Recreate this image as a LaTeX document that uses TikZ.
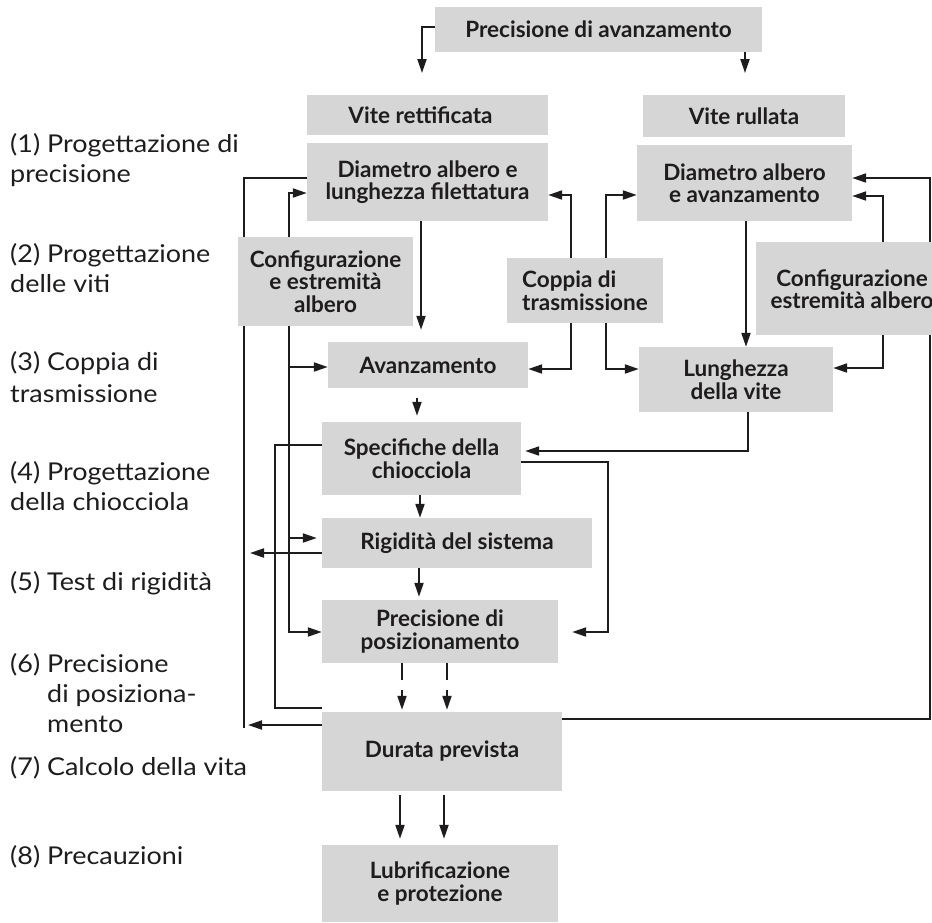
\documentclass[tikz,border=0pt]{standalone}
\usepackage{fontspec}
\setmainfont{Lato}
\newfontfamily\lblfont{Lato}[FakeStretch=1.1]
\usetikzlibrary{arrows.meta}
\pgfdeclarelayer{bg}
\pgfsetlayers{bg,main}
\definecolor{boxgray}{RGB}{214,214,214}
\definecolor{ink}{RGB}{30,28,29}
\begin{document}
\begin{tikzpicture}[x=1pt,y=-1pt,
  box/.style={fill=boxgray, draw=none, inner sep=0pt, align=center, text=ink, font=\bfseries\fontsize{22.5}{22.5}\selectfont},
  boxtext/.style={inner sep=0pt, align=center, text=ink, font=\bfseries\fontsize{22.5}{22.5}\selectfont},
  lbl/.style={anchor=base west, inner sep=0pt, text=ink, font=\lblfont\fontsize{24.5}{30}\selectfont},
  conn/.style={draw=ink, line width=2pt},
  arr/.style={conn, -{Triangle[length=14pt,width=9pt]}},
]
\useasboundingbox (0,0) rectangle (932,922);
% boxes
\node[box, minimum width=327pt, minimum height=45pt] (top) at (598.5,29.5) {Precisione di avanzamento};
\node[box, minimum width=241pt, minimum height=40pt] (viteR) at (427.5,115) {Vite rettificata\hspace*{14pt}};
\node[box, minimum width=241pt, minimum height=78pt] (diamR) at (427.5,182) {Diametro albero e\\lunghezza filettatura};
\node[box, minimum width=202pt, minimum height=42pt] (viteRul) at (744,116) {Vite rullata};
\node[box, minimum width=215pt, minimum height=76pt] (diamA) at (744.5,183) {Diametro albero\\e avanzamento};
\node[box, minimum width=176pt, minimum height=93pt] (confR) at (844,288.5) {};
\node[boxtext] (confRt) at (852,289) {Configurazione\\estremità albero};
\node[box, minimum width=194pt, minimum height=65pt] (lung) at (736,379.5) {Lunghezza\\della vite};
\node[box, minimum width=156pt, minimum height=65pt, align=left] (coppia) at (585,290.5) {Coppia di\\trasmissione};
\node[box, minimum width=175pt, minimum height=89pt] (confL) at (325.5,281.5) {Configurazione\\e estremità\\albero};
\node[box, minimum width=200pt, minimum height=46pt] (avz) at (428,365) {Avanzamento};
\node[box, minimum width=199pt, minimum height=73pt] (spec) at (421.5,458.5) {Specifiche della\\chiocciola};
\node[box, minimum width=270pt, minimum height=50pt] (rig) at (457,543) {Rigidità del sistema};
\node[box, minimum width=236pt, minimum height=63pt] (prec) at (440,631.5) {Precisione di\\posizionamento};
\node[box, minimum width=240pt, minimum height=79pt] (dur) at (442,751.5) {Durata prevista};
\node[box, minimum width=236pt, minimum height=77pt] (lub) at (440,883.5) {Lubrificazione\\e protezione};
% left labels
\node[lbl] (l1a) at (10,152) {(1) Progettazione di};
\node[lbl] (l1b) at (10,182) {precisione};
\node[lbl] (l2a) at (10,262) {(2) Progettazione};
\node[lbl] (l2b) at (10,292) {delle viti};
\node[lbl] (l3a) at (10,370) {(3) Coppia di};
\node[lbl] (l3b) at (10,402) {trasmissione};
\node[lbl] (l4a) at (10,480) {(4) Progettazione};
\node[lbl] (l4b) at (10,510) {della chiocciola};
\node[lbl] (l5) at (10,590) {(5) Test di rigidità};
\node[lbl] (l6a) at (10,672) {(6) Precisione};
\node[lbl] (l6b) at (47,702) {di posiziona-};
\node[lbl] (l6c) at (47,732) {mento};
\node[lbl] (l7) at (10,775) {(7) Calcolo della vita};
\node[lbl] (l8) at (10,864) {(8) Precauzioni};
% free ends
\coordinate (tipL) at (422,73);
\coordinate (tipR) at (745,73);
\coordinate (busTop) at (289,193);
\coordinate (busBot) at (289,632);
\coordinate (outTop) at (244,178);
\coordinate (outBot) at (244,728);
\coordinate (retL) at (250,553);
\coordinate (retL2) at (248,725);
\coordinate (loopR) at (930,178);
\begin{pgfonlayer}{bg}
\draw[arr] (top.west |- 0,27) -| (tipL);
\draw[arr] (tipR |- top.south) -- (tipR);
\draw[arr, shorten >=12pt] (421,0 |- diamR.south) -- (421,0 |- avz.north);
% coppia
\draw[arr] (571,0 |- coppia.north) |- (diamR.east |- 0,195);
\draw[arr] (606,0 |- coppia.north) |- (diamA.west |- 0,195);
\draw[arr] (571,0 |- coppia.south) |- (avz.east |- 0,369);
\draw[arr] (606,0 |- coppia.south) |- (lung.west |- 0,369);
% right column
\draw[arr] (746,0 |- diamA.south) -- (746,0 |- lung.north);
\draw[arr] (883,0 |- confR.north) |- (diamA.east |- 0,196);
\draw[arr] (883,0 |- confR.south) |- (lung.east |- 0,368);
\draw[arr] (dur.east |- 0,719) -| (loopR) -- (diamA.east |- loopR);
\draw[arr, shorten >=4pt] (748,0 |- lung.south) |- (spec.east |- 0,451);
\draw[arr, shorten >=14pt] (spec.east |- 0,462) -| (608,632) -- (prec.east |- 0,632);
% centre column
\draw[arr, shorten <=10pt, shorten >=6pt] (417,0 |- avz.south) -- (417,0 |- spec.north);
\draw[arr] (420,0 |- spec.south) -- (420,0 |- rig.north);
\draw[arr, shorten >=3pt] (419,0 |- rig.south) -- (419,0 |- prec.north);
\draw[arr, dash pattern=on 17pt off 10pt on 60pt, shorten >=2pt] (402,0 |- prec.south) -- (402,0 |- dur.north);
\draw[arr, dash pattern=on 17pt off 10pt on 60pt, shorten >=2pt] (447,0 |- prec.south) -- (447,0 |- dur.north);
\draw[arr, shorten <=4pt, shorten >=6pt] (400,0 |- dur.south) -- (400,0 |- lub.north);
\draw[arr, shorten <=4pt, shorten >=6pt] (444,0 |- dur.south) -- (444,0 |- lub.north);
% left structure
\draw[conn] (outBot) -- (outTop) -- (diamR.west |- outTop);
\draw[arr] (rig.west |- retL) -- (retL);
\draw[arr] (dur.west |- retL2) -- (retL2);
\draw[arr] (busBot) -- (busTop) -- (diamR.west |- busTop);
\draw[arr] (busTop) -- (busBot) -- (prec.west |- busBot);
\draw[arr] (289,367) -- (avz.west |- 0,367);
\draw[arr, shorten >=5pt] (289,538) -- (rig.west |- 0,538);
\draw[conn] (spec.west |- 0,445) -| (275,708) -- (dur.west |- 0,708);
\end{pgfonlayer}
\end{tikzpicture}
\end{document}
